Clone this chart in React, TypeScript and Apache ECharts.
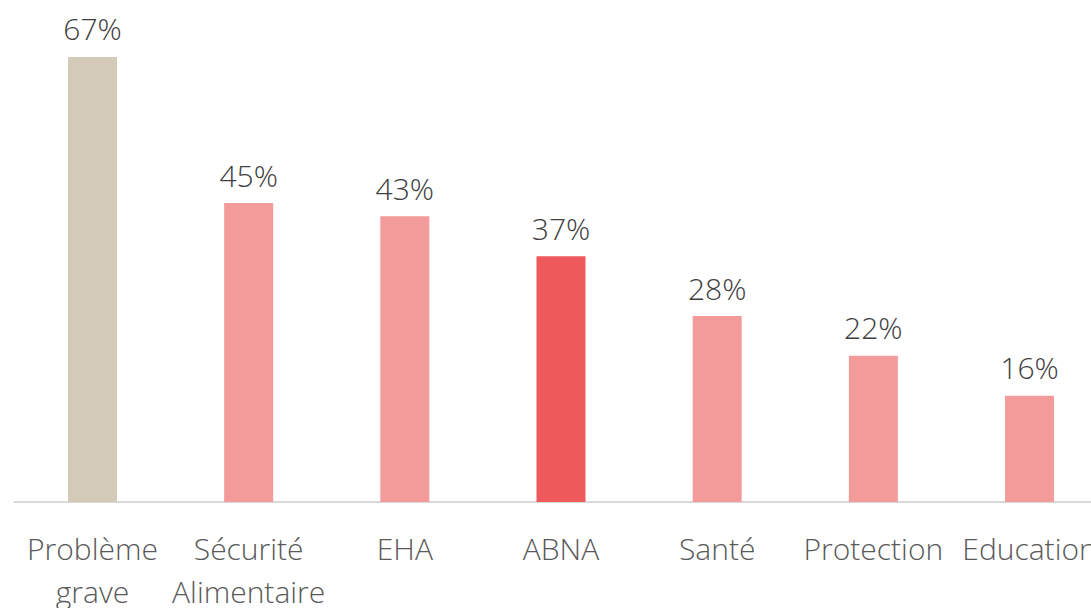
import React, { useEffect, useRef } from "react";
import * as echarts from "echarts";

const categories = ["Problème\ngrave", "Sécurité\nAlimentaire", "EHA", "ABNA", "Santé", "Protection", "Education"];
const values = [67, 45, 43, 37, 28, 22, 16];
const barColors = ["#D3CAB7", "#F39A9A", "#F39A9A", "#EE5A5B", "#F39A9A", "#F39A9A", "#F39A9A"];

const FONT = "'Open Sans', 'Noto Sans', sans-serif";

export default function App() {
  const ref = useRef<HTMLDivElement>(null);
  useEffect(() => {
    if (!ref.current) return;
    const chart = echarts.init(ref.current, undefined, { renderer: "svg" });
    chart.setOption({
      animation: false,
      backgroundColor: "#ffffff",
      grid: { left: 14.4, top: 37, width: 1093.2, height: 465, containLabel: false, outerBoundsMode: "none" },
      xAxis: {
        type: "category",
        data: categories,
        axisLine: { show: true, lineStyle: { color: "#D9D9D9", width: 2 } },
        axisTick: { show: false },
        axisLabel: {
          color: "#595959",
          fontFamily: FONT,
          fontWeight: 300,
          fontSize: 30,
          lineHeight: 43,
          margin: 25,
          interval: 0,
          hideOverlap: false,
        },
      },
      yAxis: {
        type: "value",
        min: 0,
        max: 70,
        show: false,
        splitLine: { show: false },
      },
      series: [
        {
          type: "bar",
          barWidth: 49,
          data: values.map((v, i) => ({ value: v, itemStyle: { color: barColors[i] } })),
          label: {
            show: true,
            position: "top",
            distance: 13,
            formatter: (p: any) => `${p.value}%`,
            color: "#404040",
            fontFamily: FONT,
            fontWeight: 300,
            fontSize: 30,
          },
        },
      ],
    });
    return () => chart.dispose();
  }, []);
  return <div ref={ref} style={{ width: 1091, height: 608, position: "absolute", left: 0, top: 0 }} />;
}
